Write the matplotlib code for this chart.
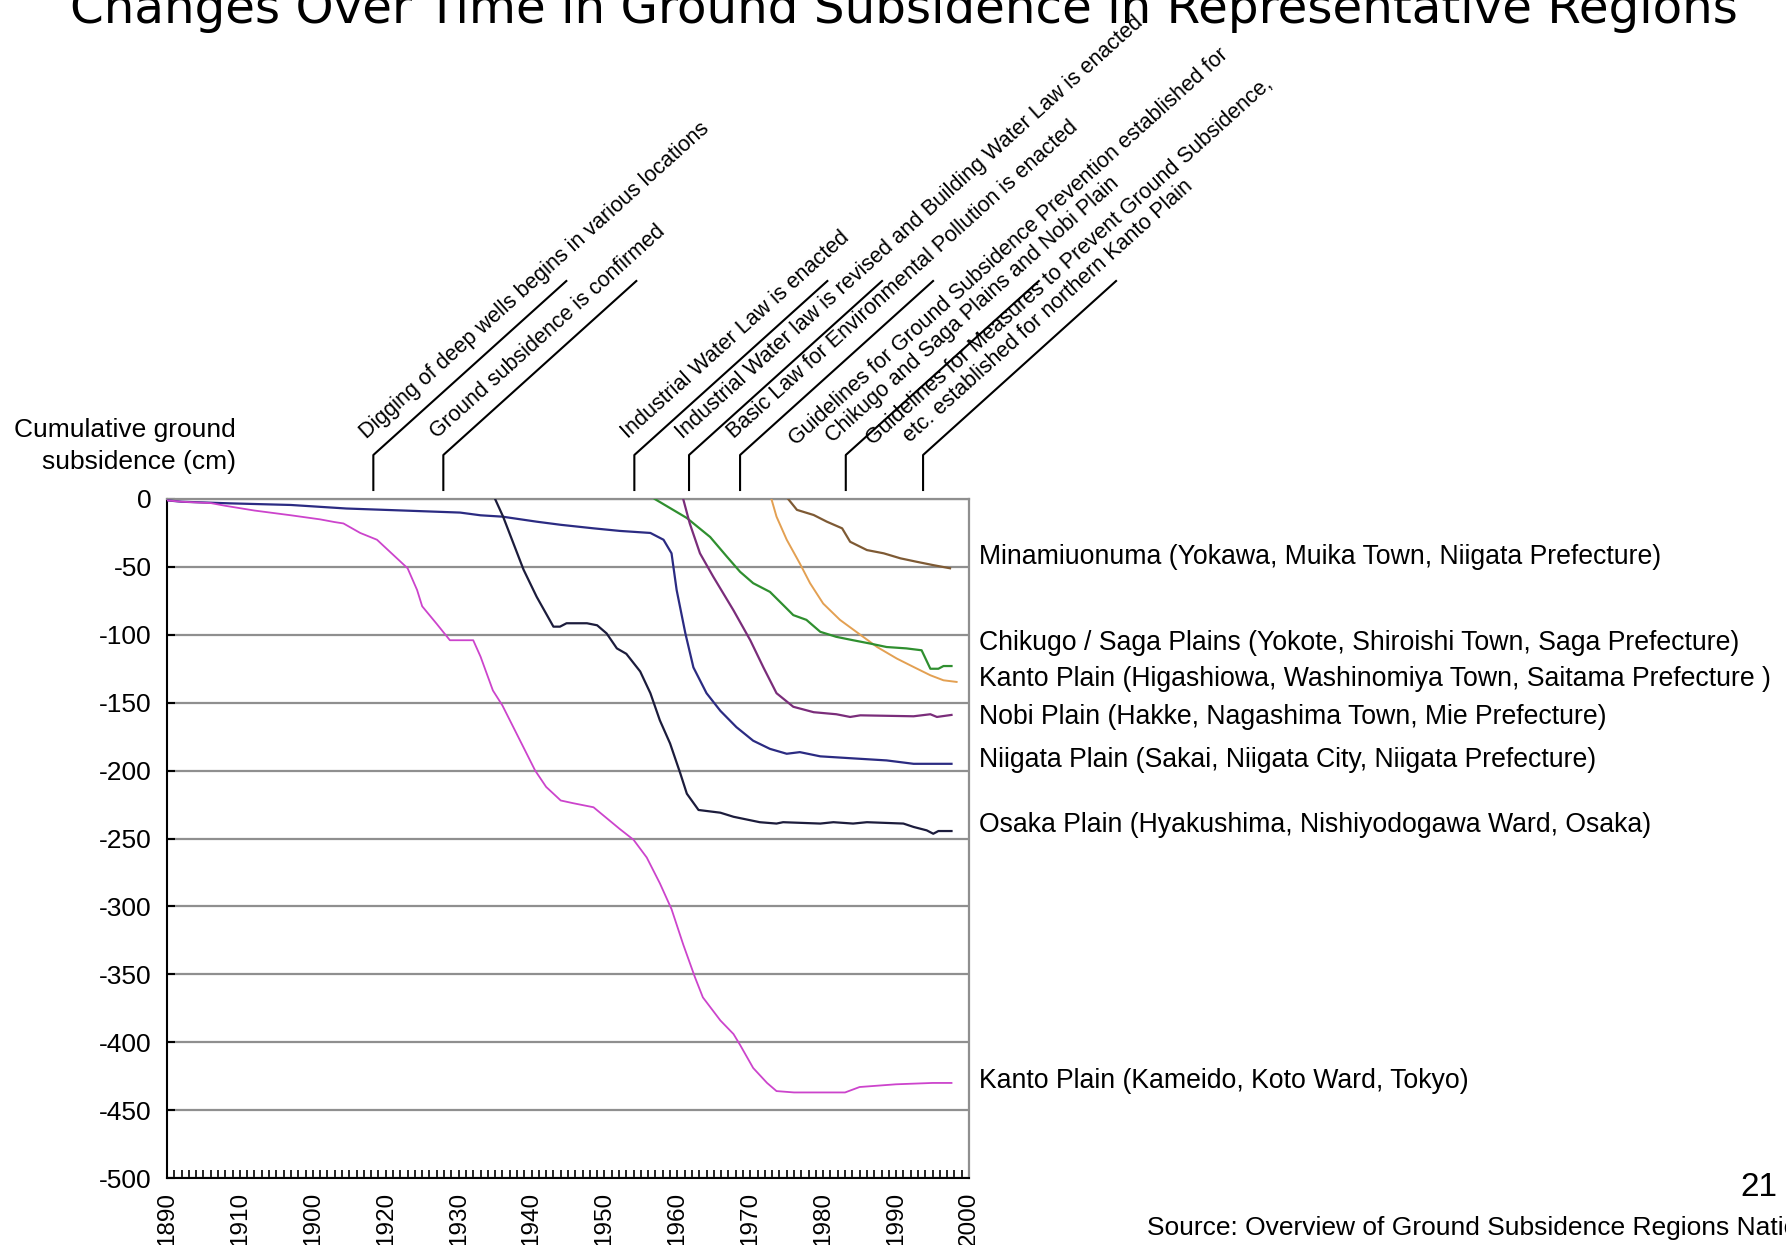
import numpy as np
import matplotlib.pyplot as plt
from matplotlib.lines import Line2D

plt.rcParams['font.family'] = ['Liberation Sans', 'DejaVu Sans']

W, H = 1786, 1245   # output size in pixels (dpi 100)

# --- cumulative subsidence (cm) by year, per observation point --- #
kameido_yr = [1890, 1892, 1896, 1898, 1902, 1907, 1911, 1913, 1914.2, 1916.5, 1918.8, 1921, 1923,
              1924.3, 1925, 1927, 1928.8, 1932, 1933, 1934.7, 1936, 1937.5, 1940.5, 1942, 1944,
              1945.7, 1948.5, 1950.3, 1952.1, 1954, 1955.8, 1957.6, 1959.2, 1960.8, 1962.4, 1963.5,
              1965.9, 1967.7, 1968.6, 1970.4, 1972.3, 1973.6, 1976, 1983, 1985, 1990, 1995, 1997.6]
kameido_cm = [-1, -2, -3, -5, -8.5, -12, -15, -17, -18, -25, -30, -41, -51,
              -67, -79, -92, -104, -104, -116, -141, -152, -168, -200, -212, -222,
              -224, -227, -235, -243, -251, -264, -283, -302, -328, -352, -367,
              -384, -394, -402, -419, -430, -436, -437, -437, -433, -431, -430, -430]

osaka_yr = [1935, 1936.1, 1938.9, 1940.7, 1943, 1943.9, 1944.8, 1947.6, 1949, 1950.3, 1951.7, 1953,
            1954.9, 1956.3, 1957.6, 1959, 1960.4, 1961.3, 1962.9, 1965.9, 1967.7, 1971.3, 1973.6,
            1974.5, 1979.6, 1981.4, 1984.1, 1986, 1991, 1992.4, 1994.2, 1995.1, 1995.8, 1997.6]
osaka_cm = [0, -13, -52, -72, -94, -94, -91.5, -91.5, -93, -99, -110, -114,
            -127, -143, -163, -180, -202, -217, -229, -231, -234, -238, -239,
            -238, -239, -238, -239, -238, -239, -241.5, -244, -246.5, -244.5, -244.5]

niigata_yr = [1890, 1892, 1898.6, 1907, 1914.6, 1923, 1930.2, 1933, 1936, 1940.7, 1944, 1948.5,
              1952.1, 1956.3, 1958.1, 1959.2, 1959.9, 1961.1, 1962.2, 1964, 1965.9, 1968.1, 1970.4,
              1972.7, 1975, 1976.8, 1979.6, 1984.1, 1988.7, 1992.4, 1997.6]
niigata_cm = [-1, -2, -3.2, -4.4, -7, -8.6, -10, -12, -13, -16.7, -19, -21.6,
              -23.5, -25, -30, -40, -67, -99, -124, -143, -156, -168, -178,
              -184, -187.6, -186.4, -189.5, -191, -192.5, -195, -195]

nobi_yr = [1960.8, 1961.7, 1963.1, 1964.9, 1967.7, 1970, 1971.8, 1973.6, 1975.9, 1978.7, 1981.8,
           1983.7, 1985.1, 1992.4, 1994.7, 1995.6, 1997.6]
nobi_cm = [0, -18, -40, -57, -82, -104, -124, -143, -153, -157, -158.5,
           -160.5, -159.3, -160, -158.5, -160.5, -159]

chikugo_yr = [1956.9, 1961.3, 1964.5, 1966.8, 1968.6, 1970.4, 1972.7, 1974.5, 1975.9, 1977.7, 1979.6,
              1981.8, 1984.1, 1986.4, 1988.7, 1991.4, 1993.5, 1994.7, 1995.8, 1996.5, 1997.6]
chikugo_cm = [0, -14, -28, -42.5, -53.6, -62, -68.4, -78, -85.5, -89, -97.8,
              -101.5, -104, -106.4, -109, -110, -111.4, -125, -125, -123, -123]

higashiowa_yr = [1972.9, 1973.6, 1975, 1976.8, 1978.2, 1980, 1982.3, 1985.1, 1987.4, 1990.1, 1992.4,
                 1994.7, 1996.5, 1998.3]
higashiowa_cm = [0, -13, -30, -47.5, -62, -77, -89, -100, -109, -117.5, -123.7,
                 -129.8, -133.5, -134.7]

minami_yr = [1975.2, 1976.4, 1978.7, 1980.5, 1982.6, 1983.7, 1986, 1988.3, 1990.6, 1992.8, 1995.1, 1997.4]
minami_cm = [0, -8, -11.8, -16.7, -21.6, -31.5, -37.6, -40, -43.7, -46.2, -48.7, -51]

region_labels = [
    'Minamiuonuma (Yokawa, Muika Town, Niigata Prefecture)',
    'Chikugo / Saga Plains (Yokote, Shiroishi Town, Saga Prefecture)',
    'Kanto Plain (Higashiowa, Washinomiya Town, Saitama Prefecture )',
    'Nobi Plain (Hakke, Nagashima Town, Mie Prefecture)',
    'Niigata Plain (Sakai, Niigata City, Niigata Prefecture)',
    'Osaka Plain (Hyakushima, Nishiyodogawa Ward, Osaka)',
    'Kanto Plain (Kameido, Koto Ward, Tokyo)',
]
label_pos = [-42.8, -106.3, -132.4, -160.8, -192.5, -240, -428.4]

decades = [1890, 1900, 1910, 1920, 1930, 1940, 1950, 1960, 1970, 1980, 1990, 2000]
decade_labels = ['1890', '1910', '1900', '1920', '1930', '1940', '1950', '1960', '1970', '1980', '1990', '2000']

event_x = [1918.3, 1927.9, 1954.1, 1961.6, 1968.6, 1983.1, 1993.7]
event_text = [
    ['Digging of deep wells begins in various locations'],
    ['Ground subsidence is confirmed'],
    ['Industrial Water Law is enacted'],
    ['Industrial Water law is revised and Building Water Law is enacted'],
    ['Basic Law for Environmental Pollution is enacted'],
    ['Guidelines for Ground Subsidence Prevention established for',
     'Chikugo and Saga Plains and Nobi Plain'],
    ['Guidelines for Measures to Prevent Ground Subsidence,',
     'etc. established for northern Kanto Plain'],
]

fig = plt.figure(figsize=(W / 100, H / 100), dpi=100)
ax = fig.add_axes([167 / W, 1 - 1178 / H, 802 / W, 679 / H])

series = [
    (minami_yr, minami_cm, '#7e5a34', 1.6),
    (higashiowa_yr, higashiowa_cm, '#e3a052', 1.4),
    (chikugo_yr, chikugo_cm, '#2f8f2f', 1.6),
    (nobi_yr, nobi_cm, '#7a2d7a', 1.6),
    (niigata_yr, niigata_cm, '#2b2b82', 1.6),
    (osaka_yr, osaka_cm, '#1c1c3c', 1.6),
    (kameido_yr, kameido_cm, '#cc44cc', 1.3),
]
for xs, ys, c, lw in series:
    ax.plot(xs, ys, color=c, lw=lw, zorder=3)

ax.set_xlim(1890, 2000)
ax.set_ylim(-500, 0)
ax.set_yticks(np.arange(-500, 1, 50))
ax.set_yticklabels([str(v) for v in range(-500, 1, 50)])
ax.yaxis.grid(True, color='#8f8f8f', lw=1.6)
ax.set_axisbelow(True)
ax.set_xticks(decades)
ax.set_xticklabels(decade_labels, rotation=90, fontsize=17.5)
ax.set_xticks(np.arange(1890, 2001), minor=True)
ax.tick_params(axis='x', which='both', direction='in', length=6, width=1.2, pad=10)
ax.tick_params(axis='y', direction='in', length=6, width=1.5, pad=11, labelsize=19)
for side in ['left', 'bottom']:
    ax.spines[side].set_color('black')
    ax.spines[side].set_linewidth(1.5)
for side in ['top', 'right']:
    ax.spines[side].set_color('#8f8f8f')
    ax.spines[side].set_linewidth(1.6)

# region names to the right of the plot
for s, yv in zip(region_labels, label_pos):
    ax.text(1.013, yv, s, transform=ax.get_yaxis_transform(), ha='left', va='center',
            fontsize=19.2, clip_on=False)

# event call-outs: short riser then a 42-degree leader with the text on it
ang = np.radians(42)
along = np.array([np.cos(ang), np.sin(ang)])
perp = np.array([-np.sin(ang), np.cos(ang)])
for yr, lines in zip(event_x, event_text):
    x0 = ax.transData.transform((yr, 0))[0]
    lx = np.array([x0, x0, x0 + 193])
    ly = np.array([H - 490, H - 455, H - 281])
    fig.add_artist(Line2D(lx / W, ly / H, transform=fig.transFigure, color='black', lw=1.5))
    offs = [(6, 16)] if len(lines) == 1 else [(-31, 40), (-2, 18)]
    for s, (a, p) in zip(lines, offs):
        x, y = np.array([x0, H - 455]) + a * along + p * perp
        fig.text(x / W, y / H, s, rotation=42, rotation_mode='anchor', ha='left',
                 va='baseline', fontsize=15.5)

fig.text(70 / W, 1 - 23 / H, 'Changes Over Time in Ground Subsidence in Representative Regions',
         fontsize=34.8, family='DejaVu Sans', va='baseline')
fig.text(236 / W, 1 - 446 / H, 'Cumulative ground\nsubsidence (cm)', ha='right', va='center',
         multialignment='right', fontsize=19, linespacing=1.38)
fig.text(1147 / W, 1 - 1228 / H, 'Source: Overview of Ground Subsidence Regions Nationwide',
         va='center', fontsize=19)
fig.text(1777 / W, 1 - 1188 / H, '21', ha='right', va='center', fontsize=24)

fig.savefig('out.png', dpi=100)
